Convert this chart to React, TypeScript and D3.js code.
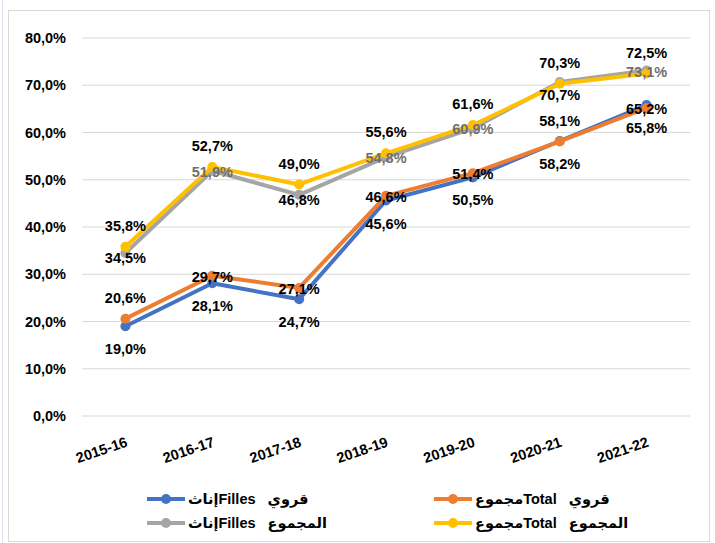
import React from 'react'
import * as d3 from 'd3'

// school years
const years = ['2015-16', '2016-17', '2017-18', '2018-19', '2019-20', '2020-21', '2021-22']

// rates in %
const ruralFilles = [19.0, 28.1, 24.7, 45.6, 50.5, 58.2, 65.8]
const ruralTotal = [20.6, 29.7, 27.1, 46.6, 51.4, 58.1, 65.2]
const totalFilles = [34.5, 51.9, 46.8, 54.8, 60.9, 70.7, 73.1]
const totalTotal = [35.8, 52.7, 49.0, 55.6, 61.6, 70.3, 72.5]

// where each data label sits relative to its point
const ruralFillesLabels = ['below', 'below', 'below', 'below', 'below', 'below', 'below']
const ruralTotalLabels = ['above', 'center', 'center', 'center', 'center', 'above', 'center']
const totalFillesLabels = ['low', 'center', 'low', 'center', 'center', 'lower', 'center']
const totalTotalLabels = ['above', 'above', 'above', 'above', 'above', 'above', 'above']

const yTicks = [0, 10, 20, 30, 40, 50, 60, 70, 80]

const seriesNames = ['إناثFilles   قروي', 'مجموعTotal   قروي', 'إناثFilles   المجموع', 'مجموعTotal   المجموع']

const W = 715
const H = 543
const FONT = '"Liberation Sans", "DejaVu Sans", Arial, sans-serif'

const fmt = (v: number) => v.toFixed(1).replace('.', ',') + '%'

const labelShift: Record<string, number> = { above: -21, center: 1, low: 5, lower: 13, below: 23 }

function App() {
    const x = d3.scaleBand().domain(years).range([82, 690])
    const y = d3.scaleLinear().domain([0, 80]).range([416, 38])
    const cx = (d: string) => (x(d) as number) + x.bandwidth() / 2

    const series = [
        { name: seriesNames[0], values: ruralFilles, place: ruralFillesLabels, color: '#4472C4', labelColor: '#000' },
        { name: seriesNames[1], values: ruralTotal, place: ruralTotalLabels, color: '#ED7D31', labelColor: '#000' },
        { name: seriesNames[2], values: totalFilles, place: totalFillesLabels, color: '#A5A5A5', labelColor: '#6f6f6f' },
        { name: seriesNames[3], values: totalTotal, place: totalTotalLabels, color: '#FFC000', labelColor: '#000' },
    ]

    const line = d3
        .line<number>()
        .x((_, i) => cx(years[i]))
        .y(d => y(d))

    const legendPos = [
        { x: 147, y: 499 },
        { x: 434, y: 499 },
        { x: 147, y: 523 },
        { x: 434, y: 523 },
    ]

    return (
        <svg width={W} height={H} style={{ position: 'absolute', left: 0, top: 0, background: '#fff' }} fontFamily={FONT}>
            <line x1={2.5} x2={2.5} y1={0} y2={H} stroke="#dde3ec" />
            <rect x={8.5} y={10.5} width={701} height={531} fill="#fff" stroke="#d9d9d9" />

            {/* grid + y axis */}
            {yTicks.map(t => (
                <g key={t}>
                    <line x1={82} x2={690} y1={y(t)} y2={y(t)} stroke="#d9d9d9" strokeWidth={1} />
                    <text x={66} y={y(t)} dy="0.35em" textAnchor="end" fontSize={14.5} fontWeight="bold" fill="#000">
                        {fmt(t)}
                    </text>
                </g>
            ))}

            {/* x axis labels */}
            {years.map(d => (
                <text
                    key={d}
                    transform={`translate(${cx(d) + 3},${446}) rotate(-19)`}
                    textAnchor="end"
                    fontSize={14.5}
                    fontWeight="bold"
                    fill="#000"
                >
                    {d}
                </text>
            ))}

            {/* lines */}
            {series.map(s => (
                <g key={s.name}>
                    <path d={line(s.values) || ''} fill="none" stroke={s.color} strokeWidth={4} strokeLinejoin="round" />
                    {s.values.map((v, i) => (
                        <circle key={i} cx={cx(years[i])} cy={y(v)} r={5} fill={s.color} />
                    ))}
                </g>
            ))}

            {/* data labels */}
            {series.map(s => (
                <g key={s.name + 'l'}>
                    {s.values.map((v, i) => (
                        <text
                            key={i}
                            x={cx(years[i])}
                            y={y(v) + labelShift[s.place[i]]}
                            dy="0.35em"
                            textAnchor="middle"
                            fontSize={14.5}
                            fontWeight="bold"
                            fill={s.place[i] === 'center' ? s.labelColor : '#000'}
                        >
                            {fmt(v)}
                        </text>
                    ))}
                </g>
            ))}

            {/* legend */}
            {series.map((s, i) => (
                <g key={s.name + 'g'} transform={`translate(${legendPos[i].x},${legendPos[i].y})`}>
                    <line x1={0} x2={38} y1={0} y2={0} stroke={s.color} strokeWidth={4} />
                    <circle cx={19} cy={0} r={5} fill={s.color} />
                    <text x={41} y={0} dy="0.35em" fontSize={14.5} fontWeight="bold" fill="#000" direction="ltr" style={{ whiteSpace: 'pre' }}>
                        {s.name}
                    </text>
                </g>
            ))}
        </svg>
    )
}

export default App
